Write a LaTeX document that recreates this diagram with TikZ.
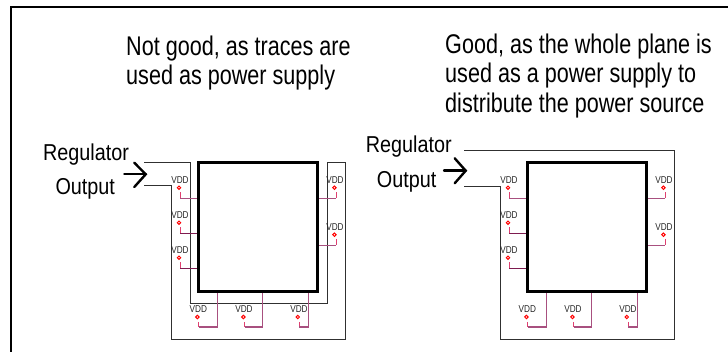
\documentclass[tikz,border=0pt]{standalone}
\usepackage{fontspec}
\setmainfont{Liberation Sans}
\newfontfamily\headfont[FakeStretch=0.80]{Liberation Sans}
\newfontfamily\labelfont[FakeStretch=0.86]{Liberation Sans}
\newfontfamily\pinfont[FakeStretch=0.82]{Liberation Sans}
\definecolor{tracegrey}{HTML}{303030}
\definecolor{pinline}{HTML}{A8507F}
\definecolor{pindark}{HTML}{7E1C50}
\definecolor{pinstub}{HTML}{E04070}
\tikzset{
  chip/.style={draw=black,line width=3.2pt,minimum width=119pt,minimum height=129pt,inner sep=0pt,anchor=center},
  headline/.style={inner sep=0pt,align=left,anchor=north west,font=\headfont\fontsize{27}{29.7}\selectfont},
  reglabel/.style={inner sep=0pt,anchor=base west,font=\labelfont\fontsize{23}{26}\selectfont},
  vddlabel/.style={inner sep=0pt,anchor=base,text=black!85,font=\pinfont\fontsize{10}{11}\selectfont},
  pad/.style={circle,draw=red,line width=1pt,minimum size=3.4pt,inner sep=0pt},
  trace/.style={draw=tracegrey,line width=1pt},
  regarrow/.style={draw=black,line width=2.4pt,line cap=round,line join=miter}
}
% #1 name prefix
\newcommand{\pinset}[1]{%
  \foreach \n/\ty/\wc in {1/0/pinline,2/35/pindark,3/70/pindark}{
    \node[vddlabel] at (180,183.5+\ty) {VDD};
    \node[pad] (#1L\n) at (179,187.7+\ty) {};
    \coordinate (#1Lc\n) at (#1chip.west |- 0,198.3+\ty);
    \coordinate (#1Ls\n) at (180.4,198.3+\ty);
    \coordinate (#1Lu\n) at (180.4,192.5+\ty);
    \draw[pinstub,line width=1pt] (#1Lu\n) -- (#1Ls\n);
    \draw[draw=\wc,line width=1.1pt] (#1Ls\n) -- (#1Lc\n);
  }
  \foreach \n/\ty in {1/0,2/47}{
    \node[vddlabel] at (335,183.5+\ty) {VDD};
    \node[pad] (#1R\n) at (334.4,187.7+\ty) {};
    \coordinate (#1Rc\n) at (#1chip.east |- 0,198.3+\ty);
    \coordinate (#1Rs\n) at (336,198.3+\ty);
    \coordinate (#1Ru\n) at (336,192.5+\ty);
    \draw[pinstub,line width=1pt] (#1Ru\n) -- (#1Rs\n);
    \draw[draw=pinline,line width=1.1pt] (#1Rc\n) -- (#1Rs\n);
  }
  \foreach \n/\lx/\cx/\wx in {1/198.3/197.4/217.3,2/244/243.4/262.7,3/299/297.8/308.3}{
    \node[vddlabel] at (\lx,312.5) {VDD};
    \node[pad] (#1B\n) at (\cx,317) {};
    \coordinate (#1Bc\n) at (\wx,0 |- #1chip.south);
    \coordinate (#1Bd\n) at (\wx,327);
    \coordinate (#1Bs\n) at (\cx+1.5,327);
    \coordinate (#1Bu\n) at (\cx+1.5,322);
    \draw[pinstub,line width=1pt] (#1Bu\n) -- (#1Bs\n);
    \draw[draw=pinline,line width=1.1pt] (#1Bc\n) -- (#1Bd\n) -- (#1Bs\n);
  }
}
\begin{document}
\begin{tikzpicture}[x=1pt,y=-1pt]
\useasboundingbox (0,0) rectangle (728,352);
% sheet outline, open to the right and at the bottom
\coordinate (frameA) at (11,352);
\coordinate (frameB) at (11,7);
\coordinate (frameC) at (728,7);
\draw[black,line width=2.4pt] (frameA) -- (frameB) -- (frameC);
% headings
\node[headline] (headA) at (126,35.5) {Not good, as traces are\\used as power supply};
\node[headline] (headB) at (445,33.5) {Good, as the whole plane is\\used as a power supply to\\distribute the power source};
% left panel
\node[reglabel] (regA) at (43,160.5) {Regulator};
\node[reglabel] (outA) at (55.3,195) {Output};
\coordinate (a1) at (144,162.7);
\coordinate (a2) at (190,162.7);
\coordinate (a3) at (190,303.3);
\coordinate (a4) at (327,303.3);
\coordinate (a5) at (327,162.7);
\coordinate (a6) at (345.3,162.7);
\coordinate (a7) at (345.3,339.3);
\coordinate (a8) at (171.3,339.3);
\coordinate (a9) at (171.3,186);
\coordinate (a10) at (144,186);
\draw[trace] (a1) -- (a2) -- (a3) -- (a4) -- (a5) -- (a6) -- (a7) -- (a8) -- (a9) -- (a10);
\node[chip,fill=white] (Achip) at (258.2,227.2) {};
\begin{scope}
\pinset{A}
\end{scope}
\coordinate (arA0) at (124.3,174.3);
\coordinate (arA1) at (145.7,174.3);
\coordinate (arA2) at (134.3,162.7);
\coordinate (arA3) at (134.3,187);
\draw[regarrow] (arA0) -- (arA1);
\draw[regarrow] (arA2) -- (arA1) -- (arA3);
% right panel
\node[reglabel] (regB) at (365.7,153) {Regulator};
\node[reglabel] (outB) at (376.7,187.3) {Output};
\coordinate (b1) at (464,151);
\coordinate (b2) at (674.7,151);
\coordinate (b3) at (674.7,339.3);
\coordinate (b4) at (500.7,339.3);
\coordinate (b5) at (500.7,186.3);
\coordinate (b6) at (464,186.3);
\draw[trace] (b1) -- (b2) -- (b3) -- (b4) -- (b5) -- (b6);
\begin{scope}[xshift=329pt]
\node[chip,fill=white] (Bchip) at (258.2,227.2) {};
\pinset{B}
\end{scope}
\coordinate (arB0) at (444,170.7);
\coordinate (arB1) at (465.7,170.7);
\coordinate (arB2) at (454.7,158.3);
\coordinate (arB3) at (454.7,183.3);
\draw[regarrow] (arB0) -- (arB1);
\draw[regarrow] (arB2) -- (arB1) -- (arB3);
\end{tikzpicture}
\end{document}
